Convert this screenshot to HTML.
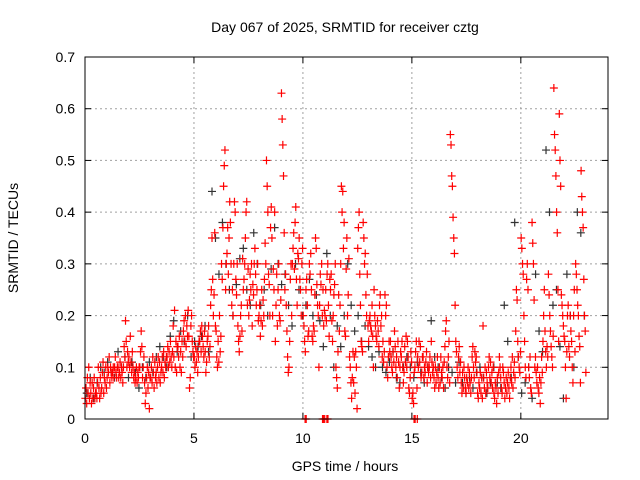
<!DOCTYPE html>
<html><head><meta charset="utf-8"><style>
body{margin:0;background:#fff}
svg{display:block;font-family:"Liberation Sans",sans-serif}
</style></head><body>
<svg id="chart" width="640" height="480" viewBox="0 0 640 480" xmlns="http://www.w3.org/2000/svg">
<rect width="640" height="480" fill="#fff"/>
<text x="345" y="32" font-size="14" text-anchor="middle">Day 067 of 2025, SRMTID for receiver cztg</text>
<text x="0" y="0" font-size="14" text-anchor="middle" transform="translate(18,238) rotate(-90)">SRMTID / TECUs</text>
<text x="345" y="471" font-size="14" text-anchor="middle">GPS time / hours</text>
<g id="grid"></g><g id="ticks"></g><g id="black"></g><g id="red"></g>
<rect x="85" y="57" width="523" height="362" fill="none" stroke="#000" stroke-width="1"/>
</svg>
<script>
const xTicks=[0,5,10,15,20];
const yTicks=[0,0.1,0.2,0.3,0.4,0.5,0.6,0.7];
const yTickLabels=["0","0.1","0.2","0.3","0.4","0.5","0.6","0.7"];
const binHours=0.25;
const redBins=[
[.04,.06,.03,.08,.05,.1,.04,.07],[.05,.03,.07,.04,.06,.08,.04,.05],[.05,.04,.07,.1,.06,.04,.08,.05],[.06,.09,.11,.05,.08,.07,.1,.06],
[.08,.1,.09,.12,.07,.1,.09,.08],[.09,.1,.08,.1,.12,.09,.08,.1],[.1,.08,.09,.11,.08,.1,.09,.07],[.1,.14,.12,.19,.15,.1,.13,.11],
[.12,.1,.16,.11,.09,.13,.1,.08],[.09,.07,.08,.1,.07,.09,.08,.1],[.1,.13,.17,.14,.08,.1,.12,.07],[.03,.05,.08,.1,.06,.09,.02,.08],
[.08,.1,.07,.12,.09,.06,.11,.08],[.09,.07,.1,.12,.08,.11,.07,.09],[.1,.12,.09,.13,.08,.11,.1,.12],[.12,.14,.1,.13,.11,.15,.12,.1],
[.13,.18,.12,.21,.1,.15,.09,.14],[.14,.12,.16,.1,.13,.09,.15,.12],[.17,.19,.15,.2,.14,.18,.16,.21],[.16,.06,.08,.18,.2,.15,.13,.12],
[.12,.1,.14,.11,.13,.09,.12,.15],[.15,.17,.13,.18,.16,.14,.12,.17],[.13,.09,.11,.15,.16,.18,.12,.14],[.22,.25,.35,.27,.2,.24,.36,.18],
[.17,.12,.1,.15,.11,.2,.13,.16],[.3,.27,.37,.45,.49,.52,.25,.3],[.32,.37,.28,.35,.42,.38,.3,.22],[.25,.2,.3,.42,.4,.27,.24,.3],
[.18,.15,.13,.16,.2,.22,.17,.31],[.25,.27,.3,.35,.4,.42,.22,.29],[.2,.23,.28,.25,.3,.18,.26,.24],[.3,.33,.28,.22,.25,.3,.19,.2],
[.22,.16,.19,.25,.18,.23,.2,.27],[.34,.3,.5,.45,.4,.28,.26,.2],[.37,.41,.35,.2,.29,.25,.4,.15],[.22,.28,.18,.25,.3,.2,.19,.23],
[.63,.58,.53,.47,.36,.25,.28,.22],[.17,.12,.09,.1,.15,.27,.3,.2],[.3,.33,.36,.29,.38,.41,.27,.22],[.32,.31,.35,.27,.25,.2,.3,.33],
[.2,.18,.15,.13,.25,.27,.22,.16],[.17,.3,.28,.32,.25,.16,.15,.18],[.17,.24,.35,.33,.26,.22,.2,.1],[.22,.28,.26,.3,.2,.25,.18,.21],
[.2,.25,.19,.28,.3,.22,.16,.27],[.25,.28,.19,.15,.2,.24,.26,.3],[.1,.08,.06,.13,.24,.17,.22,.3],[.45,.4,.44,.33,.38,.17,.16,.29],
[.35,.2,.24,.31,.12,.1,.07,.04],[.08,.13,.07,.12,.05,.13,.1,.02],[.33,.37,.4,.28,.22,.15,.14,.13],[.38,.35,.3,.32,.24,.2,.28,.18],
[.15,.19,.2,.18,.17,.22,.16,.1],[.25,.2,.18,.16,.15,.19,.17,.14],[.22,.24,.18,.2,.12,.15,.11,.13],[.24,.2,.22,.1,.08,.12,.15,.13],
[.15,.12,.1,.09,.13,.11,.17,.14],[.1,.12,.08,.15,.11,.06,.1,.13],[.12,.15,.1,.07,.09,.14,.11,.16],[.1,.15,.12,.06,.05,.08,.13,.11],
[.04,.05,.03,.09,.1,.13,.15,.06],[.12,.1,.15,.11,.14,.08,.09,.12],[.12,.08,.1,.09,.11,.13,.07,.1],[.09,.1,.12,.08,.15,.11,.09,.1],
[.08,.06,.1,.07,.09,.12,.08,.06],[.1,.07,.12,.09,.08,.1,.06,.11],[.14,.17,.19,.1,.08,.12,.15,.07],[.55,.53,.47,.45,.39,.35,.32,.22],
[.15,.13,.1,.08,.12,.14,.09,.11],[.07,.05,.09,.06,.1,.08,.06,.05],[.08,.07,.1,.06,.09,.07,.05,.08],[.12,.14,.1,.08,.13,.11,.12,.09],
[.05,.04,.07,.06,.09,.05,.08,.04],[.18,.08,.06,.1,.05,.09,.07,.06],[.1,.12,.08,.11,.07,.09,.06,.1],[.05,.04,.07,.06,.03,.08,.05,.09],
[.12,.1,.08,.06,.05,.1,.09,.07],[.04,.06,.08,.05,.07,.09,.06,.04],[.08,.1,.07,.12,.06,.09,.11,.08],[.17,.25,.23,.15,.12,.1,.09,.13],
[.35,.33,.3,.28,.2,.15,.1,.08],[.27,.3,.25,.1,.08,.12,.06,.05],[.38,.34,.3,.23,.1,.12,.09,.07],[.1,.06,.05,.08,.03,.07,.12,.09],
[.15,.2,.25,.17,.13,.1,.14,.12],[.28,.24,.2,.17,.14,.12,.1,.16],[.64,.55,.52,.47,.4,.36,.25,.15],[.59,.5,.45,.24,.22,.2,.18,.16],
[.15,.1,.04,.13,.2,.22,.14,.12],[.2,.17,.15,.1,.07,.2,.25,.13],[.3,.28,.25,.22,.2,.16,.14,.07],[.48,.43,.4,.37,.27,.2,.17,.09]
];
const redZeroTimes=[10.1,10.15,10.9,10.95,11.0,11.1,11.15,15.1,15.15,15.25];
const blackBinHours=0.479;
const blackBins=[
[.05,.08,.04],[.07,.1,.09],[.11,.09,.08],[.13,.1,.12],[.08,.11,.09],[.06,.1,.08],[.11,.09,.12],[.14,.12,.1],
[.16,.19,.13],[.17,.15,.2],[.12,.15,.14],[.16,.18,.13],[.44,.35,.28],[.38,.3,.25],[.2,.26,.31],[.33,.25,.22],
[.36,.3,.22],[.25,.2,.29],[.37,.3,.26],[.28,.22,.18],[.3,.25,.2],[.22,.27,.2],[.24,.19,.14],[.32,.2,.1],
[.18,.14,.2],[.3,.22,.17],[.2,.15,.18],[.14,.12,.1],[.13,.1,.09],[.11,.13,.08],[.07,.1,.12],[.1,.08,.11],
[.09,.07,.1],[.19,.12,.1],[.08,.06,.1],[.09,.07,.11],[.07,.05,.08],[.06,.09,.1],[.08,.05,.07],[.1,.07,.06],
[.22,.15,.08],[.38,.12,.05],[.07,.1,.04],[.28,.17,.13],[.52,.4,.22],[.25,.14,.04],[.28,.2,.1],[.4,.36,.2]
];
const X0=85,X1=608,Y0=419,Y1=57,XMAX=24,YMAX=0.7;
function xs(h){return X0+(X1-X0)*h/XMAX;}
function ys(v){return Y0-(Y0-Y1)*v/YMAX;}
const NS="http://www.w3.org/2000/svg";
function mk(tag,attrs,parent){const e=document.createElementNS(NS,tag);for(const k in attrs)e.setAttribute(k,attrs[k]);parent.appendChild(e);return e;}
const grid=document.getElementById('grid'),ticks=document.getElementById('ticks');
xTicks.forEach(t=>{
  const x=xs(t);
  if(t>0){const g=mk('line',{x1:x,y1:Y1,x2:x,y2:Y0,stroke:'#a0a0a0','stroke-dasharray':'2,3'},grid);
  
  }
  const l=mk('text',{x:x,y:Y0+24,'font-size':14,'text-anchor':'middle'},ticks);l.textContent=t;
  
  
  mk('line',{x1:x,y1:Y0,x2:x,y2:Y0-6,stroke:'#000'},ticks);
  mk('line',{x1:x,y1:Y1,x2:x,y2:Y1+6,stroke:'#000'},ticks);
});
yTicks.forEach((t,i)=>{
  const y=ys(t);
  if(t>0&&t<YMAX){const g=mk('line',{x1:X0,y1:y,x2:X1,y2:y,stroke:'#a0a0a0','stroke-dasharray':'2,3'},grid);
  
  }
  const l=mk('text',{x:X0-10,y:y+5,'font-size':14,'text-anchor':'end'},ticks);l.textContent=yTickLabels[i];
  
  
  mk('line',{x1:X0,y1:y,x2:X0+6,y2:y,stroke:'#000'},ticks);
  mk('line',{x1:X1,y1:y,x2:X1-6,y2:y,stroke:'#000'},ticks);
});
function plus(g,h,v,color,name){
  const x=xs(h),y=ys(v);
  const p=mk('path',{d:`M${x-4} ${y}h8M${x} ${y-4}v8`,stroke:color,'stroke-width':1.2,fill:'none'},g);
  
  
}
const bg=document.getElementById('black'),rg=document.getElementById('red');
blackBins.forEach((vals,i)=>vals.forEach((v,j)=>plus(bg,i*blackBinHours+(j+0.5)*blackBinHours/vals.length,v,'#333','black-point')));
redBins.forEach((vals,i)=>vals.forEach((v,j)=>plus(rg,i*binHours+(j+0.5)*binHours/vals.length,v,'#f00','red-point')));
redZeroTimes.forEach(h=>plus(rg,h,0,'#f00','red-point'));
</script>
</body></html>
